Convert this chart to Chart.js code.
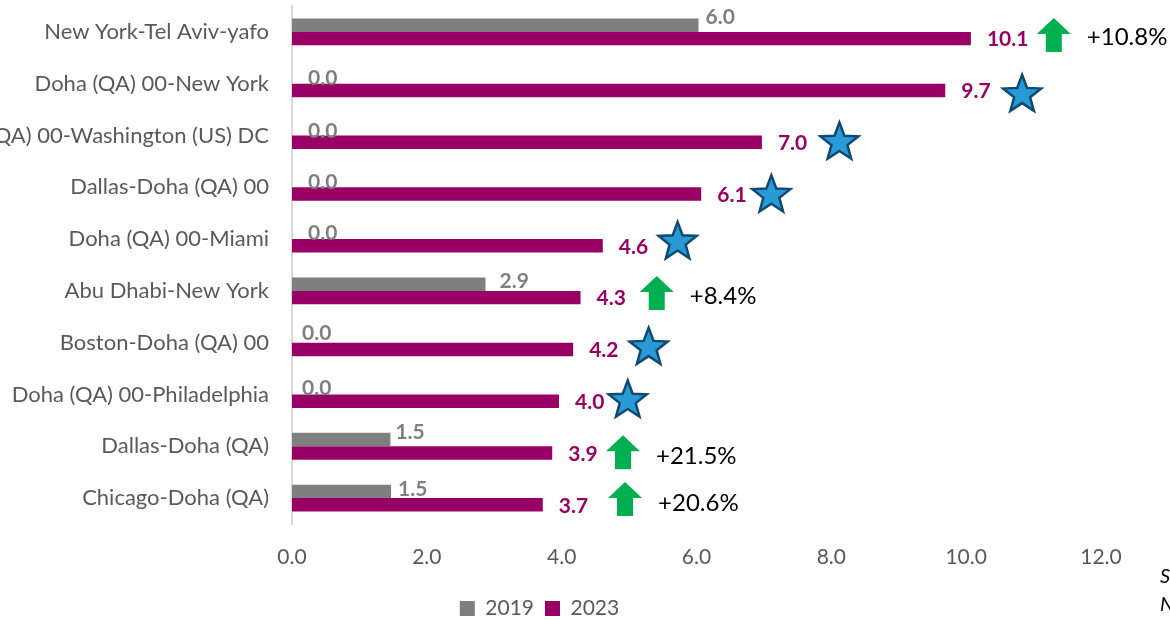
<!DOCTYPE html>
<html>
<head>
<meta charset="utf-8">
<style>html,body{margin:0;padding:0;background:#fff;overflow:hidden}#wrap{width:1170px;height:620px}</style>
<script src="https://cdn.jsdelivr.net/npm/chart.js@4"></script>
</head>
<body>
<div id="wrap"><canvas id="routes" width="1170" height="620"></canvas></div>
<script>
const routes = ['New York-Tel Aviv-yafo','Doha (QA) 00-New York','Doha (QA) 00-Washington (US) DC','Dallas-Doha (QA) 00','Doha (QA) 00-Miami','Abu Dhabi-New York','Boston-Doha (QA) 00','Doha (QA) 00-Philadelphia','Dallas-Doha (QA)','Chicago-Doha (QA)'];
const values2019 = [6.03,0,0,0,0,2.87,0,0,1.46,1.47];
const values2023 = [10.07,9.69,6.97,6.07,4.61,4.28,4.17,3.96,3.86,3.72];
const starRows = [1,2,3,4,6,7];
const starAt = [10.83,8.12,7.11,5.72,5.29,4.98];
const arrowRows = [0,5,8,9];
const arrowAt = [11.3,5.41,4.91,4.94];
const changes = ['+10.8%','+8.4%','+21.5%','+20.6%'];

const GREY = '#7f7f7f', PURPLE = '#990066', TICK = '#595959';
const FONT = 'Lato, Carlito, sans-serif';

// hand placed in the original, so offsets are per row (px from bar end / bar middle)
const greyDx = [7,16,16,16,16,14,10,10,5,7];
const greyDy = [-8,1,2,2,1,-3,-3,0,-7,-2];
const starDy = [11,7,8,3,5,6];
const arrowDy = [3,2,6,1];
const changeDy = [5,5,10,5];

function star(ctx,x,y,r){
  ctx.beginPath();
  for(let i=0;i<10;i++){
    const a = -Math.PI/2 + i*Math.PI/5, q = i%2 ? r*0.42 : r;
    ctx.lineTo(x+Math.cos(a)*q, y+Math.sin(a)*q);
  }
  ctx.closePath();
  ctx.fillStyle = '#2a9ad6';
  ctx.strokeStyle = '#0f4a73';
  ctx.lineWidth = 2.5;
  ctx.lineJoin = 'miter';
  ctx.fill();
  ctx.stroke();
}

function arrow(ctx,x,y){
  ctx.beginPath();
  ctx.moveTo(x,y-17);
  ctx.lineTo(x+17,y-1);
  ctx.lineTo(x+8,y-1);
  ctx.lineTo(x+8,y+17);
  ctx.lineTo(x-8,y+17);
  ctx.lineTo(x-8,y-1);
  ctx.lineTo(x-17,y-1);
  ctx.closePath();
  ctx.fillStyle = '#00b050';
  ctx.fill();
}

const extras = {
  id:'extras',
  afterLayout(chart){
    // legend sits left of centre and lower in the original
    chart.legend.left -= 11;
    chart.legend.right -= 11;
    chart.legend.top += 9;
    chart.legend.bottom += 9;
  },
  afterDatasetsDraw(chart){
    const {ctx,scales:{x,y}} = chart;
    const grey = chart.getDatasetMeta(0).data, purple = chart.getDatasetMeta(1).data;
    ctx.save();
    ctx.textBaseline = 'middle';
    ctx.textAlign = 'left';
    ctx.font = 'bold 21px '+FONT;
    values2019.forEach((v,i)=>{
      ctx.fillStyle = GREY;
      ctx.fillText(v.toFixed(1), grey[i].x+greyDx[i], grey[i].y+greyDy[i]);
    });
    values2023.forEach((v,i)=>{
      ctx.fillStyle = PURPLE;
      ctx.fillText(v.toFixed(1), purple[i].x+16, purple[i].y+1);
    });
    starRows.forEach((r,i)=>star(ctx,x.getPixelForValue(starAt[i]),y.getPixelForValue(r)+starDy[i],20));
    ctx.font = '24px '+FONT;
    arrowRows.forEach((r,i)=>{
      const px = x.getPixelForValue(arrowAt[i]), py = y.getPixelForValue(r);
      arrow(ctx,px,py+arrowDy[i]);
      ctx.fillStyle = '#000';
      ctx.fillText(changes[i],px+33,py+changeDy[i]);
    });
    // source / note lines run off the right edge in the original
    ctx.font = 'italic 20px '+FONT;
    ctx.fillText('S',1160,577);
    ctx.fillText('N',1160,605);
    ctx.restore();
  }
};

new Chart(document.getElementById('routes'),{
  type:'bar',
  plugins:[extras],
  data:{labels:routes,datasets:[
    {label:'2019',data:values2019,backgroundColor:GREY,barPercentage:1,categoryPercentage:0.52},
    {label:'2023',data:values2023,backgroundColor:PURPLE,barPercentage:1,categoryPercentage:0.52}
  ]},
  options:{
    indexAxis:'y',responsive:false,animation:false,
    layout:{padding:{top:6,right:69,bottom:0,left:0}},
    plugins:{
      tooltip:{enabled:false},
      legend:{position:'bottom',labels:{boxWidth:15,boxHeight:15,padding:11,color:TICK,font:{family:FONT,size:21}}}
    },
    scales:{
      x:{
        min:0,max:12,
        afterFit(s){s.height=54;s.paddingLeft=0;s.paddingRight=0},
        grid:{display:false,drawTicks:false},
        border:{display:false},
        ticks:{stepSize:2,padding:21,color:TICK,font:{family:FONT,size:21},callback:v=>v.toFixed(1),maxRotation:0}
      },
      y:{
        afterFit(s){s.width=292;s.paddingTop=0;s.paddingBottom=0},
        grid:{display:false,drawTicks:false},
        border:{color:'#d9d9d9',width:2},
        ticks:{padding:23,color:TICK,font:{family:FONT,size:22},autoSkip:false}
      }
    }
  }
});
</script>
</body>
</html>
